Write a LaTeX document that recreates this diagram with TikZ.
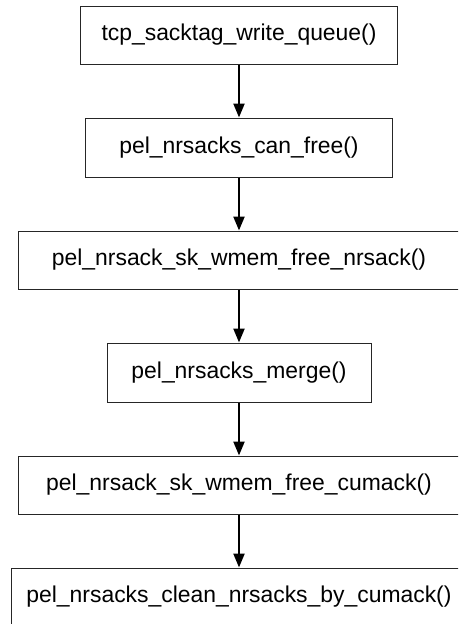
\documentclass[tikz,border=0pt]{standalone}
\usepackage{fontspec}
\setmainfont{Liberation Sans}
\usetikzlibrary{arrows.meta}
\begin{document}
\begin{tikzpicture}[x=1pt,y=-1pt,
  fn/.style={draw=black!85, line width=1pt, fill=white, inner sep=0pt,
    font=\fontsize{22.9}{26}\selectfont},
  flow/.style={line width=2.3pt, -{Triangle[width=11pt,length=14pt]}}]
\useasboundingbox (0,0) rectangle (458,624);
\clip (0,0) rectangle (458,624);
% call chain boxes
\node[fn, minimum width=317pt, minimum height=58pt] (a) at (239,35) {tcp\_sacktag\_write\_queue()};
\node[fn, minimum width=307pt, minimum height=59pt] (b) at (239,147.5) {pel\_nrsacks\_can\_free()};
\node[fn, minimum width=441pt, minimum height=58pt] (c) at (239,260) {pel\_nrsack\_sk\_wmem\_free\_nrsack()};
\node[fn, minimum width=264pt, minimum height=59pt] (d) at (239,372.5) {pel\_nrsacks\_merge()};
\node[fn, minimum width=441pt, minimum height=58pt] (e) at (239,485) {pel\_nrsack\_sk\_wmem\_free\_cumack()};
\node[fn, minimum width=455pt, minimum height=58pt] (f) at (239,597) {pel\_nrsacks\_clean\_nrsacks\_by\_cumack()};
% calls
\draw[flow] (a.south) -- (b.north);
\draw[flow] (b.south) -- (c.north);
\draw[flow] (c.south) -- (d.north);
\draw[flow] (d.south) -- (e.north);
\draw[flow] (e.south) -- (f.north);
\end{tikzpicture}
\end{document}
